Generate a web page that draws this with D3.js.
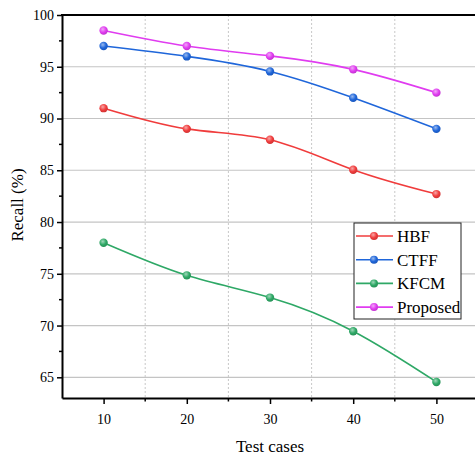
<!DOCTYPE html>
<html>
<head>
<meta charset="utf-8">
<script src="https://cdn.jsdelivr.net/npm/d3@7"></script>
<style>
  body { margin: 0; background: #fff; }
  svg { display: block; }
  text { font-family: "Liberation Serif", "Times New Roman", serif; fill: #000; }
</style>
</head>
<body>
<div id="chart"></div>
<script>
// dados
const testCases = [10, 20, 30, 40, 50];
const seriesNames = ["HBF", "CTFF", "KFCM", "Proposed"];
const hbf = [91.0, 89.0, 87.95, 85.05, 82.7];
const ctff = [97.0, 96.0, 94.55, 92.0, 89.0];
const kfcm = [78.0, 74.85, 72.7, 69.45, 64.55];
const proposed = [98.5, 97.0, 96.05, 94.75, 92.5];
const yTicks = [65, 70, 75, 80, 85, 90, 95, 100];
const xTicks = [10, 20, 30, 40, 50];

const colors = ["#f03c3c", "#1f66da", "#2ea866", "#e03cf0"];
const allSeries = [hbf, ctff, kfcm, proposed];

const width = 475, height = 458;
const margin = { left: 62, top: 15, right: -3, bottom: 60 };

const svg = d3.select("#chart").append("svg")
    .attr("width", width)
    .attr("height", height);

const x = d3.scaleLinear().domain([5, 55]).range([margin.left, width - margin.right]);
const y = d3.scaleLinear().domain([63, 100]).range([height - margin.bottom, margin.top]);

// gradientes para os marcadores (efeito esfera)
const defs = svg.append("defs");
colors.forEach((c, i) => {
    const g = defs.append("radialGradient")
        .attr("id", "grad" + i)
        .attr("cx", "40%").attr("cy", "35%").attr("r", "65%");
    g.append("stop").attr("offset", "0%").attr("stop-color", d3.interpolateRgb(c, "#fff")(0.55));
    g.append("stop").attr("offset", "60%").attr("stop-color", c);
    g.append("stop").attr("offset", "100%").attr("stop-color", d3.color(c).darker(0.4));
});

// grade horizontal
svg.append("g").selectAll("line")
    .data(yTicks.filter(d => d < 100))
    .enter().append("line")
    .attr("x1", margin.left).attr("x2", width)
    .attr("y1", d => y(d)).attr("y2", d => y(d))
    .attr("stroke", "#c4c4c4").attr("stroke-width", 1.2);

// grade vertical pontilhada (posições menores)
svg.append("g").selectAll("line")
    .data([15, 25, 35, 45])
    .enter().append("line")
    .attr("x1", d => x(d)).attr("x2", d => x(d))
    .attr("y1", margin.top).attr("y2", y(63))
    .attr("stroke", "#c8c8c8").attr("stroke-width", 1)
    .attr("stroke-dasharray", "2,2");

// eixo x
const xAxis = svg.append("g")
    .attr("transform", `translate(0,${y(63)})`)
    .call(d3.axisBottom(x).tickValues(xTicks).tickSize(6).tickSizeOuter(0));
xAxis.select(".domain").attr("stroke-width", 2);
xAxis.selectAll(".tick line").attr("stroke-width", 1.5);
xAxis.selectAll("text").style("font-size", "14px").attr("dy", "1.2em");
svg.append("g").selectAll("line")
    .data([15, 25, 35, 45])
    .enter().append("line")
    .attr("x1", d => x(d)).attr("x2", d => x(d))
    .attr("y1", y(63)).attr("y2", y(63) + 3.5)
    .attr("stroke", "#000").attr("stroke-width", 1.5);

// eixo y
const yAxis = svg.append("g")
    .attr("transform", `translate(${margin.left},0)`)
    .call(d3.axisLeft(y).tickValues(yTicks).tickSize(5).tickSizeOuter(0));
yAxis.select(".domain").attr("stroke-width", 2);
yAxis.selectAll(".tick line").attr("stroke-width", 1.5);
yAxis.selectAll("text").style("font-size", "14px").attr("x", -8);
svg.append("g").selectAll("line")
    .data([67.5, 72.5, 77.5, 82.5, 87.5, 92.5, 97.5])
    .enter().append("line")
    .attr("x1", margin.left - 3).attr("x2", margin.left)
    .attr("y1", d => y(d)).attr("y2", d => y(d))
    .attr("stroke", "#000").attr("stroke-width", 1.5);

// borda superior
svg.append("line")
    .attr("x1", margin.left - 1).attr("x2", width)
    .attr("y1", margin.top).attr("y2", margin.top)
    .attr("stroke", "#000").attr("stroke-width", 2);

// linhas suavizadas
const line = d3.line()
    .x((d, i) => x(testCases[i]))
    .y(d => y(d))
    .curve(d3.curveNatural);

allSeries.forEach((s, i) => {
    svg.append("path")
        .datum(s)
        .attr("d", line)
        .attr("fill", "none")
        .attr("stroke", colors[i])
        .attr("stroke-width", 1.6);
    svg.append("g").selectAll("circle")
        .data(s)
        .enter().append("circle")
        .attr("cx", (d, j) => x(testCases[j]))
        .attr("cy", d => y(d))
        .attr("r", 4.2)
        .attr("fill", `url(#grad${i})`);
});

// títulos dos eixos
svg.append("text")
    .attr("x", 270).attr("y", 452)
    .attr("text-anchor", "middle")
    .style("font-size", "17px")
    .text("Test cases");
svg.append("text")
    .attr("transform", `translate(23,205) rotate(-90)`)
    .attr("text-anchor", "middle")
    .style("font-size", "17px")
    .text("Recall (%)");

// legenda
const legend = svg.append("g").attr("transform", "translate(354,223)");
legend.append("rect")
    .attr("width", 107).attr("height", 96)
    .attr("fill", "#fff").attr("stroke", "#222").attr("stroke-width", 1);
seriesNames.forEach((name, i) => {
    const ly = 13 + i * 23.7;
    legend.append("line")
        .attr("x1", 2).attr("x2", 39)
        .attr("y1", ly).attr("y2", ly)
        .attr("stroke", colors[i]).attr("stroke-width", 1.6);
    legend.append("circle")
        .attr("cx", 20).attr("cy", ly).attr("r", 4)
        .attr("fill", `url(#grad${i})`);
    legend.append("text")
        .attr("x", 43).attr("y", ly)
        .attr("dy", "0.35em")
        .style("font-size", "17px")
        .text(name);
});
</script>
</body>
</html>
